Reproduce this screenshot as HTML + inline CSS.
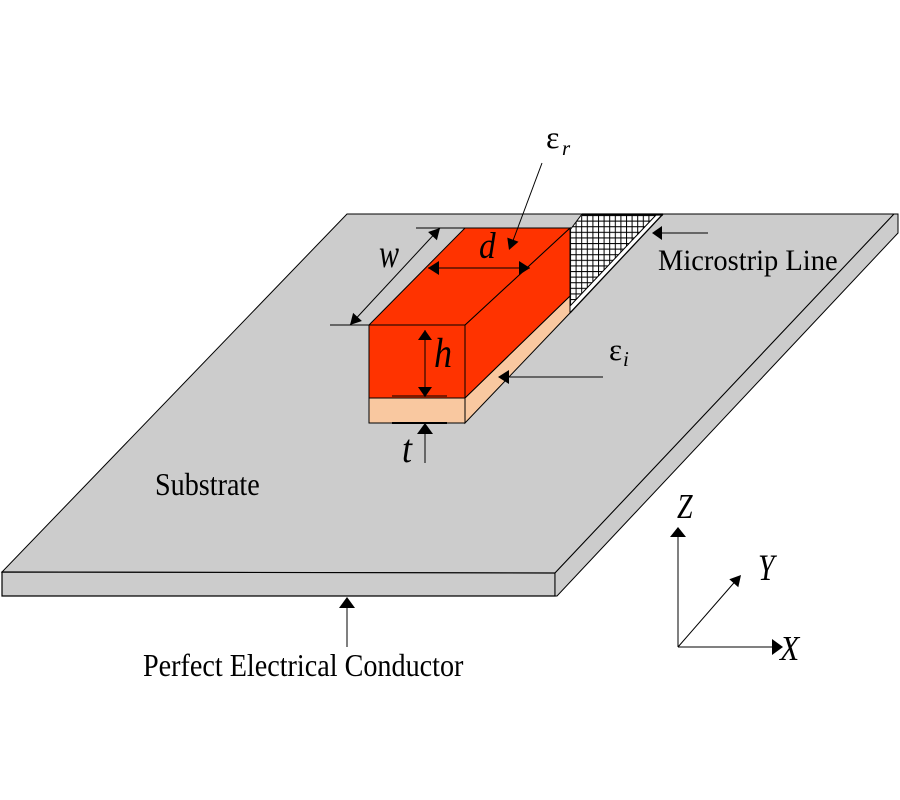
<!DOCTYPE html>
<html>
<head>
<meta charset="utf-8">
<style>
html,body{margin:0;padding:0;background:#fff;}
svg{display:block;}
text{font-family:"Liberation Serif","DejaVu Serif",serif;fill:#000;}
.it{font-style:italic;}
</style>
</head>
<body>
<svg width="900" height="800" viewBox="0 0 900 800" xmlns="http://www.w3.org/2000/svg">
<defs>
<pattern id="grid" x="570" y="215" width="5.6" height="5.6" patternUnits="userSpaceOnUse">
<rect width="5.6" height="5.6" fill="#fff"/>
<path d="M0.5 0 V5.6 M0 0.5 H5.6" stroke="#000" stroke-width="1" fill="none"/>
</pattern>
</defs>
<rect width="900" height="800" fill="#fff"/>

<!-- Substrate slab -->
<polygon points="347,214 894,214 555,573 2,572" fill="#cccccc" stroke="#000" stroke-width="1"/>
<polygon points="2,572 555,573 555,596 2,596" fill="#cccccc" stroke="#000" stroke-width="1.2"/>
<polygon points="555,573 894,214 898,214 898,233 557,596 555,596" fill="#cccccc" stroke="#000" stroke-width="1"/>

<!-- Microstrip line -->
<polygon points="570,230 582,215 656,215 570,306" fill="url(#grid)"/>
<polygon points="656,215 663,215 570,314 570,306" fill="#fff"/>
<line x1="656" y1="215" x2="570" y2="306" stroke="#000" stroke-width="1"/>
<line x1="582" y1="214.5" x2="663" y2="214.5" stroke="#000" stroke-width="2.2"/>
<line x1="570" y1="230" x2="582" y2="214" stroke="#000" stroke-width="1"/>
<line x1="663" y1="214" x2="570" y2="313" stroke="#000" stroke-width="1.3"/>

<!-- Block -->
<polygon points="465,398 570,296 570,313 465,423" fill="#f9c8a0" stroke="#000" stroke-width="1"/>
<polygon points="465,325 570,228 570,296 465,398" fill="#ff3300" stroke="#000" stroke-width="1"/>
<polygon points="369,325 465,325 570,228 465,228" fill="#ff3300" stroke="#000" stroke-width="1"/>
<rect x="369" y="398" width="96" height="25" fill="#f9c8a0" stroke="#000" stroke-width="1"/>
<rect x="369" y="325" width="96" height="73" fill="#ff3300" stroke="#000" stroke-width="1"/>

<!-- w dimension -->
<line x1="416" y1="228" x2="465" y2="228" stroke="#000" stroke-width="1"/>
<line x1="330" y1="325" x2="369" y2="325" stroke="#000" stroke-width="1"/>
<line x1="350" y1="325" x2="440" y2="228" stroke="#000" stroke-width="1"/>
<polygon points="440,228 436.9,240.2 428.1,232" fill="#000"/>
<polygon points="350,325 361.9,321 353.1,312.9" fill="#000"/>
<text class="it" font-size="40" transform="translate(379,267) scale(0.75,1)">w</text>

<!-- d dimension -->
<line x1="428" y1="268" x2="530" y2="268" stroke="#000" stroke-width="1"/>
<polygon points="428,268 439,261 439,275" fill="#000"/>
<polygon points="530,268 519,261 519,275" fill="#000"/>
<text class="it" font-size="37" transform="translate(479,258) scale(0.9,1)">d</text>

<!-- epsilon r -->
<line x1="542" y1="163" x2="511" y2="246" stroke="#000" stroke-width="1"/>
<polygon points="509,250 518.5,241.8 507.3,237.6" fill="#000"/>
<text font-size="32" x="546" y="148">ε</text>
<text class="it" font-size="21" x="562" y="155">r</text>

<!-- h dimension -->
<line x1="425" y1="330" x2="425" y2="397" stroke="#000" stroke-width="1"/>
<polygon points="425,330 418,340 432,340" fill="#000"/>
<polygon points="425,397 418,387 432,387" fill="#000"/>
<line x1="392" y1="396" x2="447" y2="396" stroke="#000" stroke-width="1"/>
<text class="it" font-size="42" transform="translate(434,367) scale(0.86,1)">h</text>

<!-- t dimension -->
<line x1="392" y1="423" x2="447" y2="423" stroke="#000" stroke-width="2"/>
<line x1="425" y1="425" x2="425" y2="463" stroke="#000" stroke-width="1"/>
<polygon points="425,423 417,434 433,434" fill="#000"/>
<text class="it" font-size="40" transform="translate(402,462) scale(0.9,1)">t</text>

<!-- epsilon i -->
<line x1="603" y1="377" x2="500" y2="377" stroke="#000" stroke-width="1"/>
<polygon points="498,377 509,370 509,384" fill="#000"/>
<text font-size="31" x="609" y="360">ε</text>
<text class="it" font-size="21" x="623" y="366">i</text>

<!-- Microstrip label -->
<line x1="708" y1="233" x2="654" y2="233" stroke="#000" stroke-width="1"/>
<polygon points="652,233 662,226 662,240" fill="#000"/>
<text font-size="30" transform="translate(658,270) scale(0.95,1)">Microstrip Line</text>

<!-- Substrate label -->
<text font-size="32" transform="translate(155,495) scale(0.88,1)">Substrate</text>

<!-- PEC -->
<line x1="347" y1="599" x2="347" y2="647" stroke="#000" stroke-width="1"/>
<polygon points="347,597 339,608 355,608" fill="#000"/>
<text font-size="32" transform="translate(143,676) scale(0.88,1)">Perfect Electrical Conductor</text>

<!-- Axes -->
<line x1="678" y1="647" x2="678" y2="530" stroke="#000" stroke-width="1"/>
<polygon points="678,527 670,537 686,537" fill="#000"/>
<line x1="678" y1="647" x2="780" y2="647" stroke="#000" stroke-width="1"/>
<polygon points="783,647 772,639 772,655" fill="#000"/>
<line x1="678" y1="647" x2="739" y2="577" stroke="#000" stroke-width="1"/>
<polygon points="741,575 738.3,587.2 729.3,579.3" fill="#000"/>
<text class="it" font-size="35" transform="translate(677,518) scale(0.8,1)">Z</text>
<text class="it" font-size="37" transform="translate(758,580) scale(0.8,1)">Y</text>
<text class="it" font-size="35" transform="translate(780,660) scale(0.9,1)">X</text>
</svg>
</body>
</html>
